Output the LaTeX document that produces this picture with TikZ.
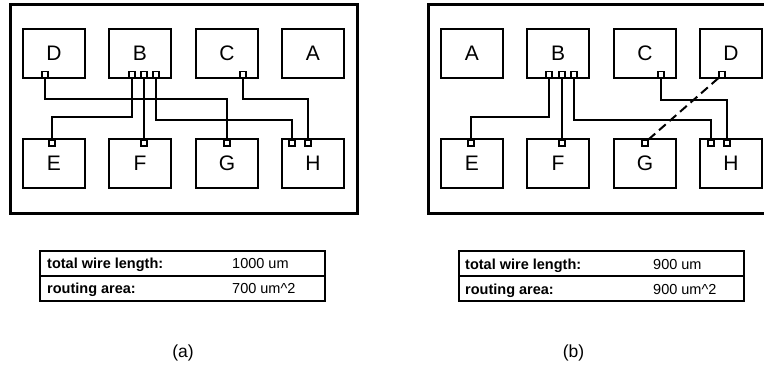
\documentclass[tikz,border=0pt]{standalone}
\usepackage{fontspec}
\setmainfont{Liberation Sans}
\begin{document}
\begin{tikzpicture}[x=1pt,y=-1pt,
  frame/.style={draw,line width=3pt,inner sep=0pt,minimum width=347pt,minimum height=208pt},
  blk/.style={draw,line width=2pt,minimum width=62pt,minimum height=49pt,inner sep=0pt,font=\fontsize{21}{25}\selectfont},
  padsq/.style={draw,fill=white,line width=1.3pt,minimum size=6pt,inner sep=0pt},
  wire/.style={line width=2pt},
  dwire/.style={wire,dash pattern=on 9pt off 5pt},
  tbl/.style={draw,line width=2pt,minimum width=285pt,minimum height=25pt,inner sep=0pt},
  lbl/.style={font=\bfseries\fontsize{14.5}{17}\selectfont,anchor=base west,inner sep=0pt},
  val/.style={font=\fontsize{14.5}{17}\selectfont,anchor=base west,inner sep=0pt},
  captxt/.style={font=\fontsize{17.5}{20}\selectfont}]
\clip (0,0) rectangle (764,369);
\fill[white] (0,0) rectangle (764,369);

% ---------------- panel (a) ----------------
\node[frame] (aF) at (183.5,109) {};
\node[blk] (aD) at (54,53.5) {D};
\node[blk] (aB) at (140,53.5) {B};
\node[blk] (aC) at (227,53.5) {C};
\node[blk] (aA) at (313,53.5) {A};
\node[blk] (aE) at (54,163.5) {E};
\node[blk] (aFb) at (140,163.5) {F};
\node[blk] (aG) at (227,163.5) {G};
\node[blk] (aH) at (313,163.5) {H};
\coordinate (aL1) at (0,99);
\coordinate (aL2) at (0,117);
\coordinate (aL3) at (0,120);
\node[padsq] (aDp) at (45,74.5) {};
\node[padsq] (aB1) at (132,74.5) {};
\node[padsq] (aB2) at (144,74.5) {};
\node[padsq] (aB3) at (156,74.5) {};
\node[padsq] (aCp) at (243,74.5) {};
\node[padsq] (aEp) at (52,143) {};
\node[padsq] (aFp) at (144,143) {};
\node[padsq] (aGp) at (227,143) {};
\node[padsq] (aH1) at (292,143) {};
\node[padsq] (aH2) at (308,143) {};

% ---------------- panel (b) ----------------
\begin{scope}[xshift=418pt]
\node[frame] (bF) at (183.5,109) {};
\node[blk] (bA) at (54,53.5) {A};
\node[blk] (bB) at (140,53.5) {B};
\node[blk] (bC) at (227,53.5) {C};
\node[blk] (bD) at (313,53.5) {D};
\node[blk] (bE) at (54,163.5) {E};
\node[blk] (bFb) at (140,163.5) {F};
\node[blk] (bG) at (227,163.5) {G};
\node[blk] (bH) at (313,163.5) {H};
\coordinate (bL1) at (0,100);
\coordinate (bL2) at (0,117);
\coordinate (bL3) at (0,120);
\node[padsq] (bB1) at (131,74.5) {};
\node[padsq] (bB2) at (144,74.5) {};
\node[padsq] (bB3) at (156,74.5) {};
\node[padsq] (bCp) at (243,74.5) {};
\node[padsq] (bDp) at (304,74.5) {};
\node[padsq] (bEp) at (53,143) {};
\node[padsq] (bFp) at (144,143) {};
\node[padsq] (bGp) at (227,143) {};
\node[padsq] (bH1) at (293,143) {};
\node[padsq] (bH2) at (309,143) {};
\end{scope}

% wires (a)
\draw[wire] (aDp.south) |- (aGp.north |- aL1) -- (aGp.north);
\draw[wire] (aCp.south) |- (aH2.north |- aL1) -- (aH2.north);
\draw[wire] (aB1.south) |- (aEp.north |- aL2) -- (aEp.north);
\draw[wire] (aB2.south) -- (aFp.north);
\draw[wire] (aB3.south) |- (aH1.north |- aL3) -- (aH1.north);
% wires (b)
\draw[wire] (bCp.south) |- (bH2.north |- bL1) -- (bH2.north);
\draw[wire] (bB1.south) |- (bEp.north |- bL2) -- (bEp.north);
\draw[wire] (bB2.south) -- (bFp.north);
\draw[wire] (bB3.south) |- (bH1.north |- bL3) -- (bH1.north);
\draw[dwire] (bDp.south west) -- (bGp.north east);

% ---------------- tables ----------------
\node[tbl] (aT1) at (182.5,263) {};
\node[tbl] (aT2) at (182.5,288) {};
\node[lbl] (aT1l) at (47,268.5) {total wire length:};
\node[val] (aT1v) at (232,268.5) {1000 um};
\node[lbl] (aT2l) at (47,293.5) {routing area:};
\node[val] (aT2v) at (232,293.5) {700 um\textasciicircum 2};

\node[tbl] (bT1) at (601.5,263.5) {};
\node[tbl] (bT2) at (601.5,288.5) {};
\node[lbl] (bT1l) at (465,269) {total wire length:};
\node[val] (bT1v) at (653,269) {900 um};
\node[lbl] (bT2l) at (465,294) {routing area:};
\node[val] (bT2v) at (653,294) {900 um\textasciicircum 2};

\node[captxt] (capa) at (183,353) {(a)};
\node[captxt] (capb) at (573.5,353) {(b)};
\end{tikzpicture}
\end{document}
